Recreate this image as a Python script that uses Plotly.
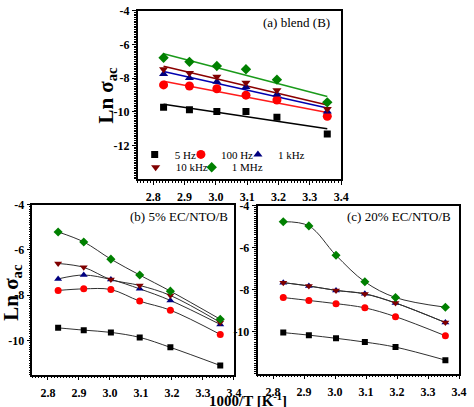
import numpy as np
import plotly.graph_objects as go

# ---------------- data ----------------
temps_K = [353, 343, 333, 323, 313, 298]
inv_T = [1000.0 / t for t in temps_K]

freq_labels = ["5 Hz", "100 Hz", "1 kHz", "10 kHz", "1 MHz"]

# (a) blend (B)
a_5Hz = [-9.73, -9.88, -9.98, -9.98, -10.33, -11.33]
a_100Hz = [-8.40, -8.47, -8.63, -9.01, -9.30, -10.27]
a_1kHz = [-7.76, -7.99, -8.22, -8.53, -8.97, -9.98]
a_10kHz = [-7.47, -7.70, -7.91, -8.28, -8.72, -9.83]
a_1MHz = [-6.79, -7.03, -7.28, -7.47, -8.09, -9.44]

# (b) 5% EC/NTO/B
b_5Hz = [-9.44, -9.54, -9.64, -9.86, -10.30, -11.10]
b_100Hz = [-7.79, -7.72, -7.75, -8.26, -8.66, -9.73]
b_1kHz = [-7.28, -7.11, -7.31, -7.72, -8.23, -9.29]
b_10kHz = [-6.60, -6.77, -7.31, -7.57, -8.01, -9.20]
b_1MHz = [-5.21, -5.65, -6.41, -7.11, -7.82, -9.06]

# (c) 20% EC/NTO/B
c_5Hz = [-10.05, -10.17, -10.32, -10.50, -10.74, -11.36]
c_100Hz = [-8.38, -8.52, -8.67, -8.87, -9.29, -10.20]
c_1kHz = [-7.67, -7.83, -8.04, -8.20, -8.64, -9.57]
c_10kHz = [-7.67, -7.83, -8.04, -8.21, -8.64, -9.57]
c_1MHz = [-4.77, -4.97, -6.37, -7.63, -8.38, -8.84]

panel_titles = ["(a) blend (B)", "(b) 5% EC/NTO/B", "(c) 20% EC/NTO/B"]

# ---------------- styles ----------------
colors = ["#000000", "#ff0000", "#000080", "#800000", "#008000"]
fit_colors = ["#000000", "#ff1a1a", "#0000b0", "#8b0000", "#1a9a1a"]
symbols = ["square", "circle", "triangle-up", "triangle-down", "diamond"]
sizes_a = [7, 9, 8, 8, 8]
sizes_bc = [6, 7, 7, 7, 7]
SERIF = "Liberation Serif"

W, H = 474, 407
def px_x(p):
    return p / W
def px_y(p):
    return 1 - p / H

fig = go.Figure()

panels = [
    ("x", "y", [a_5Hz, a_100Hz, a_1kHz, a_10kHz, a_1MHz]),
    ("x2", "y2", [b_5Hz, b_100Hz, b_1kHz, b_10kHz, b_1MHz]),
    ("x3", "y3", [c_5Hz, c_100Hz, c_1kHz, c_10kHz, c_1MHz]),
]

legend_names = ["legend", "legend2", "legend3", "legend4", "legend5"]

# panel (a): markers + least-squares fit lines
xa, ya, series = panels[0]
for i, vals in enumerate(series):
    slope, icpt = np.polyfit(inv_T, vals, 1)
    xf = [inv_T[0], inv_T[-1]]
    fig.add_trace(go.Scatter(x=xf, y=[slope * v + icpt for v in xf], mode="lines",
                             line=dict(color=fit_colors[i], width=1.6),
                             xaxis=xa, yaxis=ya, showlegend=False, hoverinfo="skip"))
for i, vals in enumerate(series):
    fig.add_trace(go.Scatter(x=inv_T, y=vals, mode="markers", name=freq_labels[i],
                             marker=dict(symbol=symbols[i], size=sizes_a[i], color=colors[i]),
                             xaxis=xa, yaxis=ya, legend=legend_names[i]))

# panels (b), (c): markers joined by smooth curves
for xa, ya, series in panels[1:]:
    for i, vals in enumerate(series):
        fig.add_trace(go.Scatter(x=inv_T, y=vals, mode="lines+markers",
                                 line=dict(color="#303030", width=1.0, shape="spline", smoothing=1.0),
                                 marker=dict(symbol=symbols[i], size=sizes_bc[i], color=colors[i]),
                                 xaxis=xa, yaxis=ya, showlegend=False))

# ---------------- axes ----------------
XT = [2.8, 2.9, 3.0, 3.1, 3.2, 3.3, 3.4]
def xaxis_style(domain, anchor):
    return dict(domain=domain, anchor=anchor, range=[2.75, 3.4],
                tickmode="array", tickvals=XT, ticktext=[f"{v:.1f}" for v in XT],
                ticks="outside", ticklen=4, tickwidth=1.2, tickcolor="black",
                ticklabelstandoff=2,
                minor=dict(tickmode="linear", tick0=2.8, dtick=0.01, ticks="outside",
                           ticklen=2, tickwidth=1, tickcolor="black"),
                showline=True, linecolor="black", linewidth=1.6, mirror=True,
                showgrid=False, zeroline=False,
                tickfont=dict(family=SERIF, size=12, color="black", weight="bold"))

def yaxis_style(domain, anchor, rng, tv):
    return dict(domain=domain, anchor=anchor, range=rng,
                tickmode="array", tickvals=tv, ticktext=[str(v) for v in tv],
                ticks="outside", ticklen=4, tickwidth=1.2, tickcolor="black",
                minor=dict(tickmode="linear", tick0=-4, dtick=0.1, ticks="outside",
                           ticklen=2, tickwidth=1, tickcolor="black"),
                showline=True, linecolor="black", linewidth=1.6, mirror=True,
                showgrid=False, zeroline=False,
                tickfont=dict(family=SERIF, size=12, color="black", weight="bold"))

dom_a_x = [px_x(140), px_x(347)]
dom_a_y = [px_y(175), px_y(4)]
dom_b_x = [px_x(33), px_x(238)]
dom_b_y = [px_y(374), px_y(201)]
dom_c_x = [px_x(262), px_x(467)]
dom_c_y = [px_y(373), px_y(202)]

layout_kw = dict(
    xaxis=xaxis_style(dom_a_x, "y"),
    yaxis=yaxis_style(dom_a_y, "x", [-14, -4], [-12, -10, -8, -6, -4]),
    xaxis2=xaxis_style(dom_b_x, "y2"),
    yaxis2=yaxis_style(dom_b_y, "x2", [-11.5, -4], [-10, -8, -6, -4]),
    xaxis3=xaxis_style(dom_c_x, "y3"),
    yaxis3=yaxis_style(dom_c_y, "x3", [-12, -4], [-10, -8, -6, -4]),
)

# legends: two rows
leg_pos = [(137, 150), (184, 150), (242, 150), (138, 163), (195, 163)]
for name, (lx, ly) in zip(legend_names, leg_pos):
    layout_kw[name] = dict(x=px_x(lx), y=px_y(ly), xanchor="left", yanchor="middle",
                           orientation="h", bgcolor="rgba(0,0,0,0)", borderwidth=0,
                           font=dict(family=SERIF, size=11, color="black"),
                           tracegroupgap=0, itemwidth=30)

fig.update_layout(
    width=W, height=H,
    margin=dict(l=0, r=0, t=0, b=0),
    paper_bgcolor="white", plot_bgcolor="white",
    font=dict(family=SERIF, color="black"),
    **layout_kw,
)

# panel labels
for txt, (tx, ty) in zip(panel_titles, [(338, 16), (234, 213), (461, 213)]):
    fig.add_annotation(text=txt, x=px_x(tx), y=px_y(ty), xref="paper", yref="paper",
                       xanchor="right", yanchor="middle", showarrow=False,
                       font=dict(family=SERIF, size=13, color="black"))

# axis titles
for (tx, ty) in [(109, 90), (12, 290)]:
    fig.add_annotation(text="Ln σ<sub>ac</sub>", x=px_x(tx), y=px_y(ty), xref="paper", yref="paper",
                       xanchor="center", yanchor="middle", textangle=-90, showarrow=False,
                       font=dict(family=SERIF, size=21, color="black", weight="bold"))
fig.add_annotation(text="1000/T [K<sup>-1</sup>]", x=px_x(252), y=px_y(400), xref="paper", yref="paper",
                   xanchor="center", yanchor="middle", showarrow=False,
                   font=dict(family=SERIF, size=15, color="black", weight="bold"))

fig.write_html("out.html", config={"displayModeBar": False},
               post_script="document.body.style.margin='0';document.body.style.overflow='hidden';")
